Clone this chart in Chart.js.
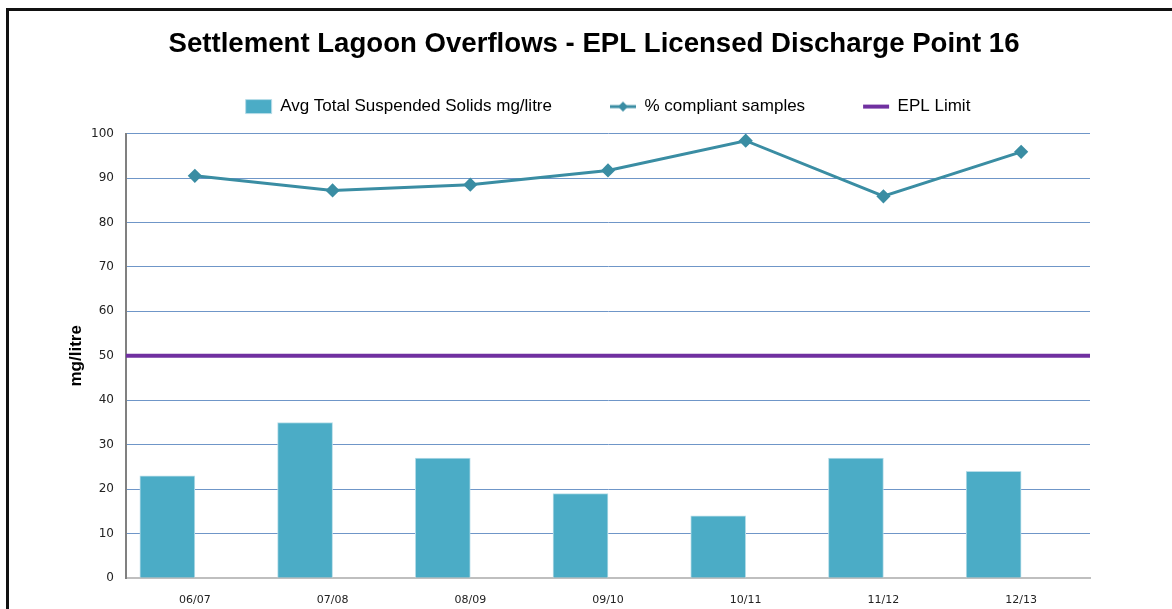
<!DOCTYPE html>
<html lang="en">
<head>
  <meta charset="UTF-8">
  <title>Settlement Lagoon Overflows</title>
  <script src="https://cdn.jsdelivr.net/npm/chart.js"></script>
  <style>
    html, body { margin: 0; padding: 0; background: #fff; overflow: hidden; }
    .frame { position: absolute; left: 6px; top: 8px; width: 1200px; height: 640px;
             border-top: 3px solid #111; border-left: 3px solid #111; }
    .wrap { position: absolute; left: 0; top: 0; width: 1172px; height: 609px; }
  </style>
</head>
<body>
  <div class="frame"></div>
  <div class="wrap"><canvas id="chart"></canvas></div>

  <script>
    const years = ['06/07', '07/08', '08/09', '09/10', '10/11', '11/12', '12/13'];
    const avgSolids = [23, 35, 27, 19, 14, 27, 24];
    const compliant = [90.5, 87.2, 88.5, 91.7, 98.4, 85.9, 95.9];
    const eplLimit = 50;
    const yTicks = [0, 10, 20, 30, 40, 50, 60, 70, 80, 90, 100];

    const textFont = "'Liberation Sans', Arial, sans-serif";
    const tickFont = "'DejaVu Sans', Verdana, sans-serif";

    // legend icon: line with a diamond on it
    function lineDiamondIcon(color) {
      const c = document.createElement('canvas');
      c.width = 26; c.height = 12;
      const g = c.getContext('2d');
      g.strokeStyle = color; g.lineWidth = 3;
      g.beginPath(); g.moveTo(0, 6); g.lineTo(26, 6); g.stroke();
      g.fillStyle = color;
      g.beginPath(); g.moveTo(13, 1); g.lineTo(18, 6); g.lineTo(13, 11); g.lineTo(8, 6); g.closePath(); g.fill();
      return c;
    }

    const ctx = document.getElementById('chart').getContext('2d');
    new Chart(ctx, {
      data: {
        labels: years,
        datasets: [
          {
            type: 'bar', label: 'Avg Total Suspended Solids mg/litre', data: avgSolids,
            backgroundColor: '#4BACC6', borderColor: '#B7DDE8', borderWidth: 1,
            barThickness: 55, pointStyle: 'rect', order: 3
          },
          {
            type: 'line', label: '% compliant samples', data: compliant,
            borderColor: '#3A8DA3', backgroundColor: '#3A8DA3', borderWidth: 3,
            pointStyle: 'rectRot', pointRadius: 5, pointHoverRadius: 5, tension: 0, order: 1
          },
          {
            type: 'line', label: 'EPL Limit', xAxisID: 'xl',
            data: [{ x: 0, y: eplLimit }, { x: 1, y: eplLimit }],
            borderColor: '#7030A0', backgroundColor: '#7030A0', borderWidth: 4,
            pointRadius: 0, pointStyle: 'line', order: 2
          }
        ]
      },
      options: {
        responsive: true,
        maintainAspectRatio: false,
        animation: false,
        devicePixelRatio: 1,
        layout: { padding: { left: 66, right: 50, top: 0, bottom: 0 } },
        plugins: {
          tooltip: { enabled: false },
          title: {
            display: true,
            text: 'Settlement Lagoon Overflows - EPL Licensed Discharge Point 16',
            color: '#000',
            font: { family: textFont, size: 27.6, weight: 'bold', lineHeight: 1 },
            padding: { top: 31, bottom: -18.5 }
          },
          // empty spacer between legend and plot
          subtitle: {
            display: true, text: '', weight: 500,
            font: { size: 1, lineHeight: 1 },
            padding: { top: 0, bottom: 7.5 }
          },
          legend: {
            position: 'top',
            fullSize: false,
            labels: {
              color: '#000',
              font: { family: textFont, size: 17 },
              usePointStyle: true,
              pointStyleWidth: 26,
              boxHeight: 14,
              padding: 58,
              sort: (a, b) => a.datasetIndex - b.datasetIndex,
              generateLabels(chart) {
                const items = Chart.defaults.plugins.legend.labels.generateLabels(chart);
                items.forEach(it => {
                  if (it.datasetIndex === 1) it.pointStyle = lineDiamondIcon('#3A8DA3');
                  if (it.datasetIndex === 2) it.lineWidth = 4;
                });
                return items;
              }
            }
          }
        },
        scales: {
          x: {
            type: 'category',
            offset: true,
            grid: { display: false, drawTicks: false },
            border: { color: '#BFBFBF', width: 2 },
            ticks: { color: '#222', font: { family: tickFont, size: 11 }, padding: 16 },
            afterFit: axis => { axis.height = 31; }
          },
          xl: { type: 'linear', display: false, min: 0, max: 1, offset: false },
          y: {
            min: 0, max: 100,
            afterBuildTicks: axis => { axis.ticks = yTicks.map(v => ({ value: v })); },
            grid: { color: '#6F96C8', lineWidth: 1, drawTicks: false },
            border: { color: '#808080', width: 2 },
            ticks: { color: '#222', font: { family: tickFont, size: 12 }, padding: 12 },
            title: {
              display: true, text: 'mg/litre', color: '#000',
              font: { family: textFont, size: 17, weight: 'bold' },
              padding: { top: 0, bottom: 5 }
            },
            afterFit: axis => { axis.width = 60; }
          },
          // empty spacer on the right of the plot
          yr: {
            position: 'right', min: 0, max: 100,
            grid: { display: false, drawTicks: false },
            border: { display: false },
            ticks: { display: false },
            afterFit: axis => { axis.width = 32; }
          }
        }
      }
    });
  </script>
</body>
</html>
